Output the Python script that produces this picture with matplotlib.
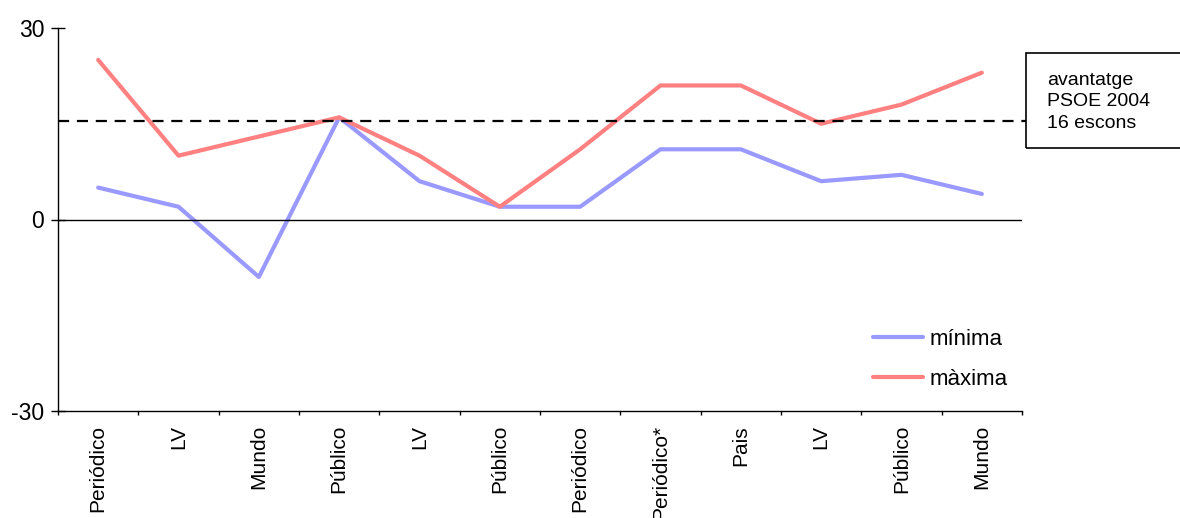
import matplotlib
matplotlib.use("Agg")
import matplotlib.pyplot as plt
from matplotlib.patches import Rectangle

# Données
categories = ["Periódico", "LV", "Mundo", "Público", "LV", "Público",
              "Periódico", "Periódico*", "Pais", "LV", "Público", "Mundo"]
minima = [5, 2, -9, 16, 6, 2, 2, 11, 11, 6, 7, 4]
maxima = [25, 10, 13, 16, 10, 2, 11, 21, 21, 15, 18, 23]
avantatge = 15.4
yticks = [-30, 0, 30]
box_text = "avantatge\nPSOE 2004\n16 escons"

plt.rcParams["font.family"] = ["Liberation Sans", "DejaVu Sans"]

fig = plt.figure(figsize=(11.8, 5.18), dpi=100)
ax = fig.add_axes([58 / 1180, 1 - 411 / 518, 964 / 1180, 383 / 518])

x = list(range(len(categories)))
ax.plot(x, minima, color="#9999FF", lw=3, label="mínima", solid_capstyle="round")
ax.plot(x, maxima, color="#FF8080", lw=3, label="màxima", solid_capstyle="round")

# ligne du zéro
ax.axhline(0, color="black", lw=1)

# ligne pointillée jusqu'à la boîte
ax.plot([0, 1.004], [avantatge, avantatge], transform=ax.get_yaxis_transform(),
        color="black", lw=1.6, ls=(0, (5, 3.5)), clip_on=False)

ax.set_xlim(-0.5, len(categories) - 0.5)
ax.set_ylim(-30, 30)
ax.set_yticks(yticks)
ax.set_yticklabels([str(v) for v in yticks], fontsize=16.5)
ax.tick_params(axis="y", direction="inout", length=10, width=1, pad=5)

ax.set_xticks(x)
ax.set_xticklabels(categories, rotation=90, fontsize=15, va="top")
ax.tick_params(axis="x", length=0, pad=10)
ax.set_xticks([i - 0.5 for i in range(len(categories) + 1)], minor=True)
ax.tick_params(axis="x", which="minor", direction="out", length=3, width=1)

for s in ["top", "right"]:
    ax.spines[s].set_visible(False)
for s in ["left", "bottom"]:
    ax.spines[s].set_linewidth(1)

ax.legend(loc="upper left", bbox_to_anchor=(873 / 1180, 1 - 329 / 518),
          bbox_transform=fig.transFigure, frameon=False, fontsize=16,
          handlelength=2.25, handletextpad=0.3, labelspacing=0.85,
          borderpad=0, borderaxespad=0)

# boîte d'annotation
fig.patches.append(Rectangle((1026 / 1180, 1 - 148 / 518), 160 / 1180, 95 / 518,
                             transform=fig.transFigure, fill=False,
                             edgecolor="black", lw=1.2))
fig.text(1047 / 1180, 1 - 102 / 518, box_text, fontsize=14, va="center",
         ha="left", linespacing=1.35)

fig.savefig("out.png", dpi=100)
